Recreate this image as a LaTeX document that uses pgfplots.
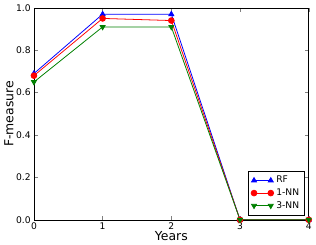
\documentclass[border=0pt]{standalone}
\usepackage{fontspec}
\setmainfont{DejaVu Sans}
\usepackage{pgfplots}
\pgfplotsset{compat=1.18}
\begin{document}
\begin{tikzpicture}
\begin{axis}[
  scale only axis,
  width=210pt, height=162pt,
  xmin=0, xmax=4, ymin=0, ymax=1,
  xtick={0,1,2,3,4},
  ytick={0,0.2,0.4,0.6,0.8,1.0},
  yticklabel style={/pgf/number format/fixed,/pgf/number format/precision=1,/pgf/number format/fixed zerofill},
  /pgf/number format/assume math mode=true,
  tick align=inside,
  tick pos=both,
  major tick length=3pt,
  ticklabel style={font=\fontsize{7}{8}\selectfont},
  xticklabel style={yshift=1pt},
  yticklabel style={xshift=1pt},
  xlabel={Years}, ylabel={F-measure},
  label style={font=\fontsize{9.5}{10}\selectfont},
  xlabel style={yshift=6pt},
  ylabel style={yshift=-5pt},
  legend style={at={(0.985,0.02)},anchor=south east,draw=black,font=\fontsize{7}{8}\selectfont,
    row sep=-1pt, inner sep=2pt},
  legend cell align=left,
  legend image code/.code={\draw[#1] plot coordinates {(0cm,0cm) (0.45cm,0cm)};},
  every axis plot/.append style={line width=0.6pt, mark size=2.2pt},
]
\addplot[blue, mark=triangle*, mark options={fill=blue}] coordinates {(0,0.69) (1,0.97) (2,0.97) (3,0) (4,0)};
\addlegendentry{RF}
\addplot[red, mark=*, mark options={fill=red}] coordinates {(0,0.68) (1,0.95) (2,0.94) (3,0) (4,0)};
\addlegendentry{1-NN}
\addplot[black!50!green, mark=triangle*, mark options={fill=black!50!green, rotate=180}] coordinates {(0,0.65) (1,0.91) (2,0.91) (3,0) (4,0)};
\addlegendentry{3-NN}
\end{axis}
\end{tikzpicture}
\end{document}
